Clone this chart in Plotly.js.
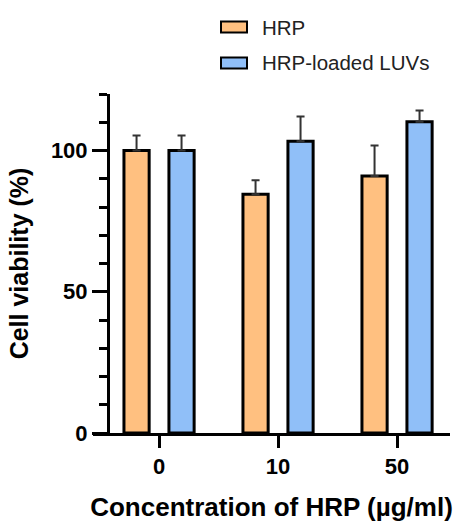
<!DOCTYPE html>
<html>
<head>
<meta charset="utf-8">
<script src="https://cdn.plot.ly/plotly-3.0.1.min.js"></script>
<style>html,body{margin:0;padding:0;background:#fff}#chart{width:465px;height:523px}</style>
</head>
<body>
<div id="chart"></div>
<script>
const categories = ["0", "10", "50"];
const seriesNames = ["HRP", "HRP-loaded LUVs"];
const hrpValues = [100, 84.5, 91];
const hrpErrors = [5.3, 5, 10.8];
const luvValues = [100, 103.3, 110.2];
const luvErrors = [5.3, 8.7, 4];
const colors = ["#FFC080", "#90BFF8"];

const W = 465, H = 523;
const mL = 93, mR = 15, mT = 94, mB = 90;
const pw = W - mL - mR, ph = H - mT - mB;
const px = x => (x - mL) / pw;
const py = y => (H - mB - y) / ph;
const FONT = "Liberation Sans, Arial";

function mk(name, vals, errs, color) {
  return {
    type: "bar", name: name, x: categories, y: vals,
    marker: {color: color, line: {color: "#000", width: 3}},
    error_y: {type: "data", array: errs, arrayminus: errs.map(() => 0), symmetric: false,
              color: "#333", thickness: 2, width: 4},
    showlegend: false, hoverinfo: "skip"
  };
}
const data = [mk(seriesNames[0], hrpValues, hrpErrors, colors[0]),
              mk(seriesNames[1], luvValues, luvErrors, colors[1])];

const legendRows = [27, 63];
const shapes = [], annotations = [];
seriesNames.forEach((n, i) => {
  const cy = legendRows[i];
  shapes.push({type: "rect", xref: "paper", yref: "paper",
    x0: px(221), x1: px(247), y0: py(cy + 5.5), y1: py(cy - 5.5),
    fillcolor: colors[i], line: {color: "#000", width: 2}});
  annotations.push({xref: "paper", yref: "paper", x: px(260), y: py(cy),
    xanchor: "left", yanchor: "middle", showarrow: false, text: n,
    font: {family: FONT, size: 20.5, color: "#222"}});
});

const layout = {
  width: W, height: H,
  margin: {l: mL, r: mR, t: mT, b: mB, pad: 0},
  paper_bgcolor: "#fff", plot_bgcolor: "#fff",
  font: {family: FONT, color: "#000"},
  barmode: "group", bargap: 0.244, bargroupgap: 0.44,
  xaxis: {
    type: "category", range: [-0.555, 2.445], showgrid: false, zeroline: false,
    showline: true, linecolor: "#000", linewidth: 3,
    ticks: "outside", ticklen: 12, tickwidth: 3, tickcolor: "#000",
    tickfont: {size: 22, family: FONT, color: "#000", weight: "bold"},
    title: {text: "Concentration of HRP (µg/ml)", standoff: 20,
            font: {size: 26, family: FONT, color: "#000", weight: "bold"}}
  },
  yaxis: {
    range: [0, 120], anchor: "free", position: 15 / pw,
    showgrid: false, zeroline: false,
    showline: true, linecolor: "#000", linewidth: 3,
    tickmode: "linear", tick0: 0, dtick: 50,
    ticks: "outside", ticklen: 15, tickwidth: 3, tickcolor: "#000",
    minor: {dtick: 10, tick0: 0, ticks: "outside", ticklen: 8, tickwidth: 3, tickcolor: "#000"},
    tickfont: {size: 22, family: FONT, color: "#000", weight: "bold"},
    title: {text: "Cell viability (%)", standoff: 14,
            font: {size: 25, family: FONT, color: "#000", weight: "bold"}}
  },
  shapes: shapes, annotations: annotations
};
Plotly.newPlot("chart", data, layout, {staticPlot: true});
</script>
</body>
</html>
